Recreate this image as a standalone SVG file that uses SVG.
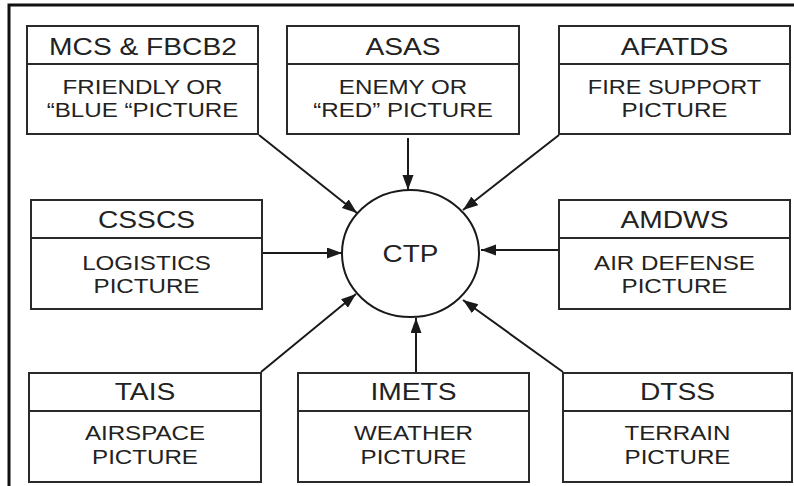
<svg xmlns="http://www.w3.org/2000/svg" width="794" height="486" viewBox="0 0 794 486">
<style>
.box{fill:#fff;stroke:#2a2a2a;stroke-width:2}
.div{stroke:#2a2a2a;stroke-width:2}
.t{font-family:"Liberation Sans",Arial,sans-serif;fill:#222;text-anchor:middle}
.h{font-size:24.5px}
.b{font-size:21px}
.c{stroke:#1a1a1a;stroke-width:2;fill:none;marker-end:url(#ah)}
</style>
<defs>
<marker id="ah" markerUnits="userSpaceOnUse" markerWidth="16" markerHeight="12" refX="15" refY="5.5" orient="auto">
<path d="M0,0 L15,5.5 L0,11 z" fill="#1a1a1a"/>
</marker>
</defs>
<rect width="794" height="486" fill="#fff"/>
<path d="M9,486 V5 H794" fill="none" stroke="#111" stroke-width="3"/>

<g id="connectors">
<line class="c" x1="259" y1="135" x2="357" y2="213"/>
<line class="c" x1="408" y1="138" x2="408" y2="190"/>
<line class="c" x1="559" y1="135" x2="463" y2="210"/>
<line class="c" x1="263" y1="253" x2="342" y2="253"/>
<line class="c" x1="559" y1="250" x2="481" y2="250"/>
<line class="c" x1="261" y1="372" x2="356" y2="294"/>
<line class="c" x1="416" y1="372" x2="416" y2="318"/>
<line class="c" x1="563" y1="372" x2="463" y2="300"/>
</g>

<g id="ctp">
<ellipse cx="410.5" cy="253.5" rx="68.5" ry="63.5" fill="#fff" stroke="#1a1a1a" stroke-width="2"/>
<text class="t h" transform="translate(410.5 262) scale(1.14 1)">CTP</text>
</g>

<g id="mcs">
<rect class="box" x="27" y="26" width="231" height="108"/>
<line class="div" x1="27" y1="64" x2="258" y2="64"/>
<text class="t h" transform="translate(143 55) scale(1.15 1)">MCS &amp; FBCB2</text>
<text class="t b" transform="translate(142.5 94) scale(1.15 1)">FRIENDLY OR</text>
<text class="t b" transform="translate(142.5 117) scale(1.15 1)">“BLUE “PICTURE</text>
</g>

<g id="asas">
<rect class="box" x="287" y="26" width="232" height="108"/>
<line class="div" x1="287" y1="64" x2="519" y2="64"/>
<text class="t h" transform="translate(403 55) scale(1.15 1)">ASAS</text>
<text class="t b" transform="translate(403 94) scale(1.15 1)">ENEMY OR</text>
<text class="t b" transform="translate(403 117) scale(1.15 1)">“RED” PICTURE</text>
</g>

<g id="afatds">
<rect class="box" x="559" y="26" width="231" height="108"/>
<line class="div" x1="559" y1="64" x2="790" y2="64"/>
<text class="t h" transform="translate(674.5 55) scale(1.15 1)">AFATDS</text>
<text class="t b" transform="translate(674.5 94) scale(1.12 1)">FIRE SUPPORT</text>
<text class="t b" transform="translate(674.5 117) scale(1.15 1)">PICTURE</text>
</g>

<g id="csscs">
<rect class="box" x="31" y="200" width="231" height="109"/>
<line class="div" x1="31" y1="238" x2="262" y2="238"/>
<text class="t h" transform="translate(146.5 228) scale(1.15 1)">CSSCS</text>
<text class="t b" transform="translate(146.5 270) scale(1.15 1)">LOGISTICS</text>
<text class="t b" transform="translate(146.5 293) scale(1.15 1)">PICTURE</text>
</g>

<g id="amdws">
<rect class="box" x="559" y="200" width="231" height="109"/>
<line class="div" x1="559" y1="238" x2="790" y2="238"/>
<text class="t h" transform="translate(674.5 228) scale(1.15 1)">AMDWS</text>
<text class="t b" transform="translate(674.5 270) scale(1.15 1)">AIR DEFENSE</text>
<text class="t b" transform="translate(674.5 293) scale(1.15 1)">PICTURE</text>
</g>

<g id="tais">
<rect class="box" x="29" y="373" width="232" height="109"/>
<line class="div" x1="29" y1="411" x2="261" y2="411"/>
<text class="t h" transform="translate(145 400) scale(1.15 1)">TAIS</text>
<text class="t b" transform="translate(145 440) scale(1.15 1)">AIRSPACE</text>
<text class="t b" transform="translate(145 464) scale(1.15 1)">PICTURE</text>
</g>

<g id="imets">
<rect class="box" x="298" y="373" width="231" height="109"/>
<line class="div" x1="298" y1="411" x2="529" y2="411"/>
<text class="t h" transform="translate(413.5 400) scale(1.15 1)">IMETS</text>
<text class="t b" transform="translate(413.5 440) scale(1.15 1)">WEATHER</text>
<text class="t b" transform="translate(413.5 464) scale(1.15 1)">PICTURE</text>
</g>

<g id="dtss">
<rect class="box" x="563" y="373" width="229" height="109"/>
<line class="div" x1="563" y1="411" x2="792" y2="411"/>
<text class="t h" transform="translate(677.5 400) scale(1.15 1)">DTSS</text>
<text class="t b" transform="translate(677.5 440) scale(1.15 1)">TERRAIN</text>
<text class="t b" transform="translate(677.5 464) scale(1.15 1)">PICTURE</text>
</g>
</svg>
